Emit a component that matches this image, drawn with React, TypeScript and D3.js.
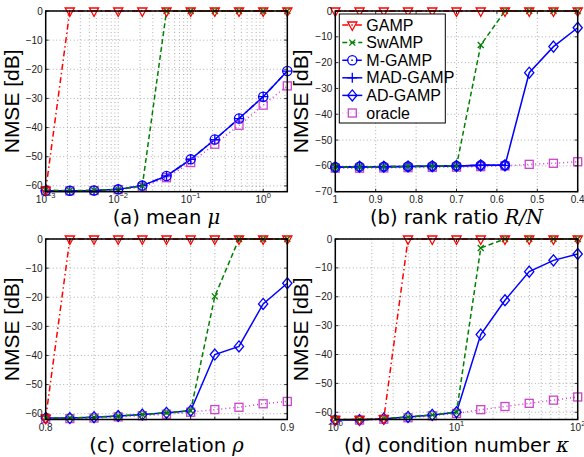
import React from 'react';
import * as d3 from 'd3';

const WIDTH = 584;
const HEIGHT = 457;

// ---- data ----
// (a) mean mu
const muX = [0.001, 0.00215, 0.00464, 0.01, 0.0215, 0.0464, 0.1, 0.215, 0.464, 1, 2.15];
const gampA = [-61.5, 0, 0, 0, 0, 0, 0, 0, 0, 0, 0];
const swampA = [-61.5, -61.6, -61.5, -61.2, -60, 0, 0, 0, 0, 0, 0];
const mgampA = [-61.7, -61.7, -61.6, -61.2, -59.9, -56.6, -50.9, -44.1, -36.9, -29.4, -20.6];
const madgampA = [-61.7, -61.7, -61.6, -61.2, -59.9, -56.6, -50.9, -44.1, -36.9, -29.4, -20.6];
const oracleA = [-61.7, -61.7, -61.6, -61.3, -60.4, -57.2, -52, -45.7, -39.2, -32.3, -25.7];

// (b) rank ratio R/N
const rankX = [1, 0.94, 0.88, 0.82, 0.76, 0.7, 0.64, 0.58, 0.52, 0.46, 0.4];
const gampB = [0, 0, 0, 0, 0, 0, 0, 0, 0, 0, 0];
const swampB = [-60.5, -60.4, -60.3, -60.2, -60.1, -60, -13.2, 0, 0, 0, 0];
const mgampB = [-60.5, -60.3, -60.3, -60.2, -60.1, -60, -59.8, -59.8, null, null, null];
const madgampB = [-60.5, -60.3, -60.3, -60.2, -60.1, -60, -59.8, -59.8, null, null, null];
const adgampB = [-60.5, -60.3, -60.3, -60.2, -60.1, -60, -59.8, -59.8, -23.9, -13.8, -6.5];
const oracleB = [-60.9, -60.9, -60.8, -60.7, -60.6, -60.5, -60.3, -60, -59.4, -59, -58.4];

// (c) correlation rho
const rhoX = [0.8, 0.81, 0.82, 0.83, 0.84, 0.85, 0.86, 0.87, 0.88, 0.89, 0.9];
const gampC = [-61.5, 0, 0, 0, 0, 0, 0, 0, 0, 0, 0];
const swampC = [-61.5, -61.5, -61.2, -60.8, -60.3, -59.7, -59, -19.7, 0, 0, 0];
const adgampC = [-61.5, -61.5, -61.2, -60.8, -60.3, -59.7, -59, -39.7, -36.9, -22.3, -15.2];
const oracleC = [-61.7, -61.7, -61.5, -61.1, -60.7, -60.2, -59.5, -58.6, -57.8, -56.6, -55.8];

// (d) condition number kappa
const kappaX = [1, 1.585, 2.512, 3.981, 6.31, 10, 15.85, 25.12, 39.81, 63.1, 100];
const gampD = [-62.5, -62.5, -62.2, 0, 0, 0, 0, 0, 0, 0, 0];
const swampD = [-62.5, -62.5, -62.2, -61.6, -60.9, -60, -3.1, 0, 0, 0, 0];
const adgampD = [-62.7, -62.7, -62.2, -61.6, -60.9, -60, -33.1, -21.2, -11.3, -7.4, -5.2];
const oracleD = [-62.7, -62.7, -62.4, -61.9, -61.2, -60.4, -59.1, -58, -56.9, -55.8, -54.7];

const yTicks60 = [0, -10, -20, -30, -40, -50, -60];
const yTicks70 = [0, -10, -20, -30, -40, -50, -60, -70];
const rankTicks = [1, 0.9, 0.8, 0.7, 0.6, 0.5, 0.4];
const legendNames = ['GAMP', 'SwAMP', 'M-GAMP', 'MAD-GAMP', 'AD-GAMP', 'oracle'];

// ---- styles ----
const RED = '#ff0000';
const GREEN = '#008000';
const BLUE = '#0000ff';
const MAGENTA = '#cc44cc';
const tickFont = '"Liberation Sans", Arial, sans-serif';

const seriesStyle = {
  GAMP: { color: RED, dash: '6,3,1.5,3', marker: 'tri' },
  SwAMP: { color: GREEN, dash: '5,3', marker: 'x' },
  'M-GAMP': { color: BLUE, dash: '6,3,1.5,3', marker: 'circle' },
  'MAD-GAMP': { color: BLUE, dash: null, marker: 'plus' },
  'AD-GAMP': { color: BLUE, dash: null, marker: 'diamond' },
  oracle: { color: MAGENTA, dash: '1,3', marker: 'square' },
};

function Marker({ type, x, y, color }) {
  const p = { fill: 'none', stroke: color, strokeWidth: 1.3 };
  if (type === 'tri') return <path d={`M${x - 4.6},${y - 3}L${x + 4.6},${y - 3}L${x},${y + 5.5}Z`} {...p} />;
  if (type === 'x') return <path d={`M${x - 3},${y - 3}L${x + 3},${y + 3}M${x - 3},${y + 3}L${x + 3},${y - 3}`} {...p} />;
  if (type === 'circle') return <circle cx={x} cy={y} r={4.6} {...p} />;
  if (type === 'plus') return <path d={`M${x - 5},${y}L${x + 5},${y}M${x},${y - 5}L${x},${y + 5}`} {...p} />;
  if (type === 'diamond') return <path d={`M${x},${y - 5.5}L${x + 4.6},${y}L${x},${y + 5.5}L${x - 4.6},${y}Z`} {...p} />;
  return <rect x={x - 4} y={y - 4} width={8} height={8} {...p} />;
}

function Legend({ x0, y0 }) {
  const rowH = 17.6;
  return (
    <g>
      <rect x={x0} y={y0} width={106} height={109} fill="#fff" stroke="#000" strokeWidth={1} />
      {legendNames.map((n, i) => {
        const cy = y0 + 11 + i * rowH;
        const s = seriesStyle[n];
        return (
          <g key={n}>
            <line x1={x0 + 3} x2={x0 + 23} y1={cy} y2={cy} stroke={s.color}
              strokeWidth={n === 'oracle' ? 1 : 1.5}
              strokeDasharray={s.dash || undefined} opacity={n === 'oracle' ? 0.5 : 1} />
            <Marker type={s.marker} x={x0 + 13} y={cy} color={s.color} />
            <text x={x0 + 27} y={cy + 5.5} fontSize={16} fontFamily={tickFont} fill="#000">{n}</text>
          </g>
        );
      })}
    </g>
  );
}

function Panel({ box, xs, xScale, yDomain, yTicks, xTicks, xLabels, minorX, series, caption, legend }) {
  const { left, right, top, bottom } = box;
  const x = xScale.range([left, right]);
  const y = d3.scaleLinear().domain(yDomain).range([bottom, top]);
  const line = d3.line()
    .defined((d) => d !== null)
    .x((d, i) => x(xs[i]))
    .y((d) => y(d));
  // draw bottom-most series first
  const order = ['oracle', 'AD-GAMP', 'MAD-GAMP', 'M-GAMP', 'SwAMP', 'GAMP'];
  const drawn = order.filter((n) => series[n]);
  const grid = { stroke: '#9a9a9a', strokeWidth: 0.8, strokeDasharray: '1,2.5' };

  return (
    <g>
      <rect x={left} y={top} width={right - left} height={bottom - top} fill="#fff" />
      {minorX.concat(xTicks).map((v, i) => (
        <line key={'gx' + i} x1={x(v)} x2={x(v)} y1={top} y2={bottom} {...grid} />
      ))}
      {yTicks.map((v) => (
        <line key={'gy' + v} x1={left} x2={right} y1={y(v)} y2={y(v)} {...grid} />
      ))}
      {drawn.map((n) => (
        <path key={n} d={line(series[n]) || ''} fill="none" stroke={seriesStyle[n].color}
          strokeWidth={1.5} strokeDasharray={seriesStyle[n].dash || undefined} />
      ))}
      {drawn.map((n) =>
        series[n].map((v, i) => v === null ? null : (
          <Marker key={n + i} type={seriesStyle[n].marker} x={x(xs[i])} y={y(v)} color={seriesStyle[n].color} />
        ))
      )}
      <rect x={left} y={top} width={right - left} height={bottom - top} fill="none" stroke="#000" strokeWidth={1.5} />
      {yTicks.map((v) => (
        <g key={'ty' + v}>
          <line x1={left} x2={left + 3} y1={y(v)} y2={y(v)} stroke="#000" strokeWidth={0.8} />
          <line x1={right} x2={right - 3} y1={y(v)} y2={y(v)} stroke="#000" strokeWidth={0.8} />
          <text x={left - 3} y={y(v) + 3.5} textAnchor="end" fontSize={10} fontFamily={tickFont} fill="#222">
            {v === 0 ? '0' : '\u2212' + Math.abs(v)}
          </text>
        </g>
      ))}
      {xTicks.map((v, i) => (
        <g key={'tx' + i}>
          <line x1={x(v)} x2={x(v)} y1={bottom} y2={bottom - 3} stroke="#000" strokeWidth={0.8} />
          <line x1={x(v)} x2={x(v)} y1={top} y2={top + 3} stroke="#000" strokeWidth={0.8} />
          {xLabels[i] && (
            <text x={x(v)} y={bottom + 11} textAnchor="middle" fontSize={10} fontFamily={tickFont} fill="#222">
              {xLabels[i].base}
              {xLabels[i].exp && <tspan dy={-4.5} fontSize={7.5}>{xLabels[i].exp}</tspan>}
            </text>
          )}
        </g>
      ))}
      <text transform={`translate(${left - 27},${(top + bottom) / 2}) rotate(-90)`} textAnchor="middle"
        fontSize={21} fontFamily={tickFont} fill="#000">NMSE [dB]</text>
      <text x={(left + right) / 2} y={bottom + 32} textAnchor="middle" fontSize={19.5}
        fontFamily='"DejaVu Sans", sans-serif' fill="#000">
        {caption.text}
        <tspan fontFamily='"DejaVu Serif", serif' fontStyle="italic">{caption.math}</tspan>
      </text>
      {legend && <Legend x0={left + 4} y0={top + 3} />}
    </g>
  );
}

function logMinor(lo, hi, maxV) {
  const out = [];
  for (let e = lo; e < hi; e++) {
    for (let k = 2; k <= 9; k++) {
      const v = k * Math.pow(10, e);
      if (v < maxV) out.push(v);
    }
  }
  return out;
}

export default function App() {
  const boxA = { left: 45.7, right: 287.3, top: 11, bottom: 191.7 };
  const boxB = { left: 335.3, right: 577.7, top: 11, bottom: 191.7 };
  const boxC = { left: 45.7, right: 287.3, top: 239, bottom: 419.5 };
  const boxD = { left: 335.3, right: 577.7, top: 239, bottom: 419.5 };

  return (
    <div style={{ position: 'absolute', left: 0, top: 0, width: WIDTH, height: HEIGHT, background: '#fff' }}>
      <svg width={WIDTH} height={HEIGHT} style={{ display: 'block' }}>
        <rect width={WIDTH} height={HEIGHT} fill="#fff" />
        <Panel
          box={boxA}
          xs={muX}
          xScale={d3.scaleLog().domain([muX[0], muX[muX.length - 1]])}
          yDomain={[-62, 0]}
          yTicks={yTicks60}
          xTicks={[0.001, 0.01, 0.1, 1]}
          xLabels={[{ base: '10', exp: '\u22123' }, { base: '10', exp: '\u22122' }, { base: '10', exp: '\u22121' }, { base: '10', exp: '0' }]}
          minorX={logMinor(-3, 1, 2.15)}
          series={{ GAMP: gampA, SwAMP: swampA, 'M-GAMP': mgampA, 'MAD-GAMP': madgampA, oracle: oracleA }}
          caption={{ text: '(a) mean ', math: '\u03bc' }}
        />
        <Panel
          box={boxB}
          xs={rankX}
          xScale={d3.scaleLinear().domain([1, 0.4])}
          yDomain={[-70, 0]}
          yTicks={yTicks70}
          xTicks={rankTicks}
          xLabels={rankTicks.map((v) => ({ base: String(v) }))}
          minorX={[]}
          series={{ GAMP: gampB, SwAMP: swampB, 'M-GAMP': mgampB, 'MAD-GAMP': madgampB, 'AD-GAMP': adgampB, oracle: oracleB }}
          caption={{ text: '(b) rank ratio ', math: 'R/N' }}
          legend
        />
        <Panel
          box={boxC}
          xs={rhoX}
          xScale={d3.scaleLinear().domain([0.8, 0.9])}
          yDomain={[-62, 0]}
          yTicks={yTicks60}
          xTicks={rhoX}
          xLabels={rhoX.map((v, i) => (i === 0 || i === rhoX.length - 1 ? { base: v.toFixed(1) } : null))}
          minorX={[]}
          series={{ GAMP: gampC, SwAMP: swampC, 'AD-GAMP': adgampC, oracle: oracleC }}
          caption={{ text: '(c) correlation ', math: '\u03c1' }}
        />
        <Panel
          box={boxD}
          xs={kappaX}
          xScale={d3.scaleLog().domain([1, 100])}
          yDomain={[-62.5, 0]}
          yTicks={yTicks60}
          xTicks={[1, 10, 100]}
          xLabels={[{ base: '10', exp: '0' }, { base: '10', exp: '1' }, { base: '10', exp: '2' }]}
          minorX={logMinor(0, 2, 100)}
          series={{ GAMP: gampD, SwAMP: swampD, 'AD-GAMP': adgampD, oracle: oracleD }}
          caption={{ text: '(d) condition number ', math: '\u03ba' }}
        />
      </svg>
    </div>
  );
}
